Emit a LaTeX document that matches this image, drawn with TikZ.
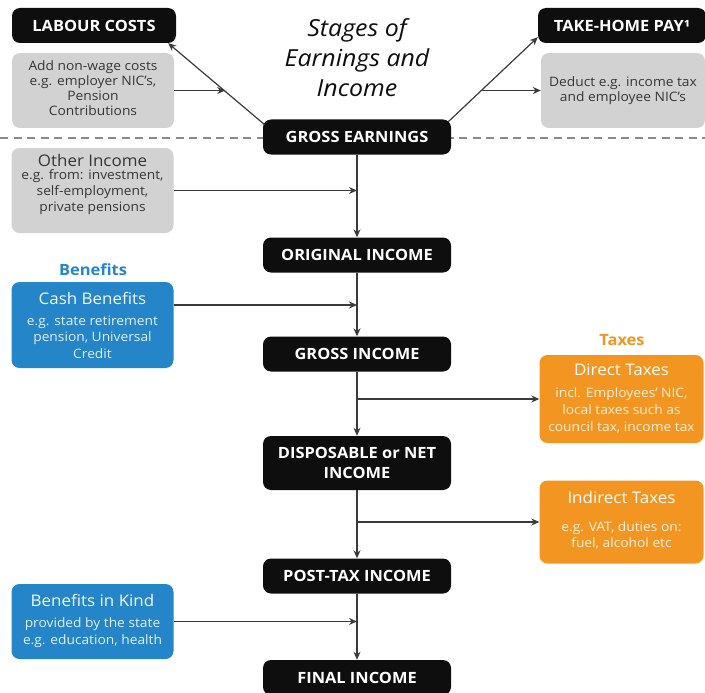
\documentclass[tikz,border=0pt]{standalone}
\usepackage{fontspec}
\setmainfont{Open Sans}[FakeStretch=1.06]
\usetikzlibrary{arrows.meta,calc}
\definecolor{blk}{HTML}{0E0E0E}
\definecolor{gry}{HTML}{D2D2D2}
\definecolor{gtxt}{HTML}{363636}
\definecolor{blu}{HTML}{2485C8}
\definecolor{btxt}{HTML}{E3EEF8}
\definecolor{org}{HTML}{F39621}
\definecolor{otxt}{HTML}{FFF1DF}
\definecolor{lne}{HTML}{3A3A3A}
\definecolor{dsh}{HTML}{8A8A8A}
\newcommand{\hdf}{\fontsize{16}{18}\selectfont}
\begin{document}
\begin{tikzpicture}[x=1pt,y=-1pt,
  stage/.style={draw=none,fill=blk,text=white,rounded corners=8pt,minimum width=188pt,minimum height=35pt,inner sep=0pt,align=center,font=\fontsize{15.5}{19.5}\selectfont\bfseries},
  box/.style={rounded corners=8pt,minimum width=162pt,inner sep=0pt,align=center,text depth=0pt,text height=#1},
  gbox/.style={box=#1,fill=gry,text=gtxt},
  bbox/.style={box=#1,fill=blu,text=btxt},
  obox/.style={box=#1,fill=org,text=otxt,minimum width=164pt},
  bs/.style={font=\fontsize{13}{#1}\selectfont},
  arr/.style={draw=lne,line width=1.2pt,-{Stealth[length=8pt,width=7pt]}}]
\useasboundingbox (0,0) rectangle (705,693);
\draw[dsh,line width=1.4pt,dash pattern=on 8pt off 5.5pt] (0,138) -- (705,138);

\node[stage,minimum width=164pt] (labour) at (94,25.5) {LABOUR COSTS};
\node[gbox=49pt,bs=15,minimum height=75pt] (g1) at (93,90.5) {Add non-wage costs\\e.g. employer NIC’s,\\Pension\\Contributions};
\node[font=\fontsize{23.5}{30}\selectfont\itshape,text=blk,align=center] (title) at (357,58) {Stages of\\Earnings and\\Income};
\node[stage,minimum width=168pt] (take) at (622,25.5) {TAKE-HOME PAY¹};
\node[gbox=22pt,bs=15,minimum width=164pt,minimum height=75pt] (g2) at (623,90.5) {Deduct e.g. income tax\\and employee NIC’s};

\node[stage] (ge) at (357,137) {GROSS EARNINGS};
\node[gbox=41pt,bs=15.5,minimum height=85pt] (other) at (92.5,190.5) {{\hdf Other Income}\\[-2.5pt]e.g. from: investment,\\self-employment,\\private pensions};
\node[stage] (orig) at (357,255) {ORIGINAL INCOME};
\node[text=blu,font=\fontsize{15.5}{18}\selectfont\bfseries] (benl) at (93,270) {Benefits};
\node[bbox=66pt,bs=16.5,minimum height=86pt] (cash) at (92.5,325) {{\hdf\color{white!95!blu} Cash Benefits}\\[4pt]e.g. state retirement\\pension, Universal\\Credit};
\node[stage] (gi) at (357,354) {GROSS INCOME};
\node[text=org,font=\fontsize{15.5}{18}\selectfont\bfseries] (taxl) at (622,340) {Taxes};
\node[obox=65pt,bs=17,minimum height=88pt] (direct) at (621.5,399) {{\hdf\color{white} Direct Taxes}\\[5.5pt]incl. Employees’ NIC,\\local taxes such as\\council tax, income tax};
\node[stage,minimum height=54pt] (disp) at (357,463) {DISPOSABLE or NET\\INCOME};
\node[obox=51pt,bs=16,minimum height=83pt] (indirect) at (621.5,522) {{\hdf\color{white} Indirect Taxes}\\[12.5pt]e.g. VAT, duties on:\\fuel, alcohol etc};
\node[stage] (pt) at (357,576) {POST-TAX INCOME};
\node[bbox=45pt,bs=17,minimum height=75pt] (kind) at (92.5,621.5) {{\hdf\color{white!95!blu} Benefits in Kind}\\[3.5pt]provided by the state\\e.g. education, health};
\node[stage] (fin) at (357,677.5) {FINAL INCOME};

% top connectors
\coordinate (la) at ($(ge.north west)+(2,5.5)$);
\coordinate (lb) at ($(labour.south east)+(-8,0)$);
\draw[arr] (la) -- (lb);
\path (la) -- (lb) coordinate[pos=0.41] (lm);
\draw[arr] (g1.east) -- (g1.east -| lm);
\coordinate (ra) at ($(ge.north east)+(-3,2.5)$);
\coordinate (rb) at ($(take.south west)+(0,-6)$);
\draw[arr] (ra) -- (rb);
\path (ra) -- (rb) coordinate[pos=0.37] (rm);
\draw[arr] (g2.west -| rm) -- (g2.west);

% main chain
\draw[arr] (ge.south) -- (orig.north);
\draw[arr] (orig.south) -- (gi.north);
\draw[arr] (gi.south) -- (disp.north);
\draw[arr] (disp.south) -- (pt.north);
\draw[arr] (pt.south) -- (fin.north);

% side inputs
\draw[arr] (other.east) -- (other.east -| ge.south);
\draw[arr] ($(cash.east)+(0,-20)$) -- ($(cash.east -| gi.north)+(0,-20)$);
\draw[arr] (kind.east) -- (kind.east -| fin.north);
\draw[arr] (direct.west -| gi.south) -- (direct.west);
\draw[arr] (indirect.west -| disp.south) -- (indirect.west);
\end{tikzpicture}
\end{document}
